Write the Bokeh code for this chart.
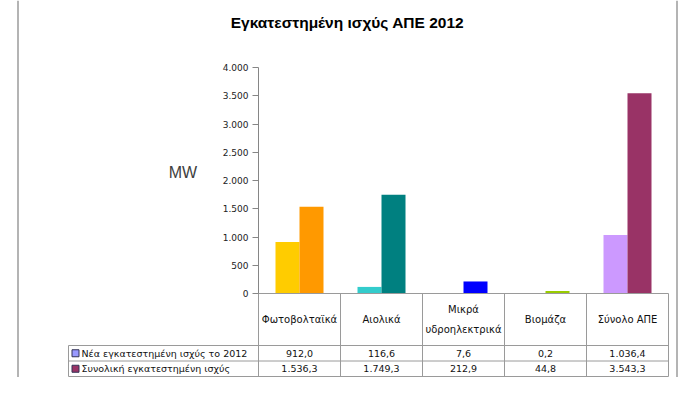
from bokeh.plotting import figure
from bokeh.models import Range1d, LinearAxis, FixedTicker, ColumnDataSource
from bokeh.core.properties import value
from bokeh.embed import file_html
from bokeh.resources import INLINE

# ---------------- data ----------------
categories = ["Φωτοβολταϊκά", "Αιολικά", "Μικρά\nυδροηλεκτρικά", "Βιομάζα", "Σύνολο ΑΠΕ"]
new_2012 = [912.0, 116.6, 7.6, 0.2, 1036.4]
total_installed = [1536.3, 1749.3, 212.9, 44.8, 3543.3]
series_names = ["Νέα εγκατεστημένη ισχύς το 2012", "Συνολική εγκατεστημένη ισχύς"]
new_colors = ["#FFCC00", "#33CCCC", "#3366FF", "#CCFFCC", "#CC99FF"]
total_colors = ["#FF9900", "#008080", "#0000FF", "#99CC00", "#993366"]
legend_colors = ["#9999FF", "#993366"]
y_ticks = [0, 500, 1000, 1500, 2000, 2500, 3000, 3500, 4000]
y_tick_labels = ["0", "500", "1.000", "1.500", "2.000", "2.500", "3.000", "3.500", "4.000"]
title_text = "Εγκατεστημένη ισχύς ΑΠΕ 2012"
unit_label = "MW"

# ---------------- layout helpers (picture pixels -> data) ----------------
W, H = 684, 377
ZERO_PY = 293.0
TOP_PY = 67.0
PX = 4000.0 / (ZERO_PY - TOP_PY)   # data units per pixel
AX_PX = 258.0
CAT_W = 82.0

def Y(py):
    return (ZERO_PY - py) * PX

def X(px):
    return (px - AX_PX) / CAT_W

def fmt(v):
    s = f"{v:,.1f}"
    return s.replace(",", "#").replace(".", ",").replace("#", ".")

p = figure(width=W, height=H, output_backend="svg", toolbar_location=None,
           x_range=Range1d(X(0), X(W)), y_range=Range1d(Y(H), Y(0)),
           x_axis_location=None, y_axis_location=None, min_border=0,
           background_fill_color="white", border_fill_color="white")
p.outline_line_color = None
for g in p.grid:
    g.visible = False

GRID = "#9a9a9a"
n = len(categories)
centers = [i + 0.5 for i in range(n)]
BW = 24.0 / CAT_W
off = BW / 2

# outer chart border (left & right sides)
p.segment(x0=[X(17.5), X(676.5)], y0=[Y(0)] * 2, x1=[X(17.5), X(676.5)], y1=[Y(H)] * 2,
          line_color="#b4b4b4", line_width=2)

# bars
src_new = ColumnDataSource(dict(x=[c - off for c in centers], top=new_2012, color=new_colors))
src_tot = ColumnDataSource(dict(x=[c + off for c in centers], top=total_installed, color=total_colors))
p.vbar(x="x", top="top", bottom=0, width=BW, fill_color="color", line_color=None, source=src_new)
p.vbar(x="x", top="top", bottom=0, width=BW, fill_color="color", line_color=None, source=src_tot)

# y axis
yaxis = LinearAxis(fixed_location=0, bounds=(0, 4000), ticker=FixedTicker(ticks=y_ticks),
                   major_label_overrides={t: l for t, l in zip(y_ticks, y_tick_labels)})
yaxis.axis_line_color = "#868686"
yaxis.major_tick_line_color = "#868686"
yaxis.major_tick_out = 6
yaxis.major_tick_in = 0
yaxis.minor_tick_out = 0
yaxis.minor_tick_in = 0
yaxis.major_label_standoff = 4
yaxis.major_label_text_font = "DejaVu Sans"
yaxis.major_label_text_font_size = "9px"
yaxis.major_label_text_color = "#222222"
p.add_layout(yaxis, "left")

# data table
row_lines = [Y(345), Y(360.5), Y(376)]
row_centers = [Y(352.75), Y(368.25)]
# baseline (x axis) and table horizontals
p.segment(x0=[0], y0=[0], x1=[n], y1=[0], line_color=GRID, line_width=1)
p.segment(x0=[X(68)] * 3, y0=row_lines, x1=[n] * 3, y1=row_lines, line_color=GRID, line_width=1)
# verticals
p.segment(x0=list(range(n + 1)), y0=[0] * (n + 1), x1=list(range(n + 1)), y1=[row_lines[-1]] * (n + 1),
          line_color=GRID, line_width=1)
p.segment(x0=[X(68)], y0=[row_lines[0]], x1=[X(68)], y1=[row_lines[-1]], line_color=GRID, line_width=1)

# headers
p.text(x=centers, y=[Y(319)] * n, text=categories, text_align="center", text_baseline="middle",
       text_font=value("DejaVu Sans"), text_font_size="10px", text_color="#111111",
       text_line_height=1.8)

# values
for r, vals in enumerate([new_2012, total_installed]):
    p.text(x=centers, y=[row_centers[r]] * n, text=[fmt(v) for v in vals], text_align="center",
           text_baseline="middle", text_font=value("DejaVu Sans"), text_font_size="9.5px",
           text_color="#111111")

# legend keys in table
p.scatter(x=[X(75)] * 2, y=row_centers, marker="square", size=7, fill_color=legend_colors,
          line_color="#333355", line_width=1)
p.text(x=[X(81)] * 2, y=row_centers, text=series_names, text_align="left", text_baseline="middle",
       text_font=value("DejaVu Sans"), text_font_size="9.5px", text_color="#111111")

# title and unit label
p.text(x=[X(347)], y=[Y(22)], text=[title_text], text_align="center", text_baseline="middle",
       text_font=value("Liberation Sans"), text_font_size="15.5px", text_font_style="bold",
       text_color="#000000")
p.text(x=[X(182.5)], y=[Y(172)], text=[unit_label], text_align="center", text_baseline="middle",
       text_font=value("Liberation Sans"), text_font_size="16px", text_color="#404040")

open("out.html", "w").write(file_html(p, INLINE))
